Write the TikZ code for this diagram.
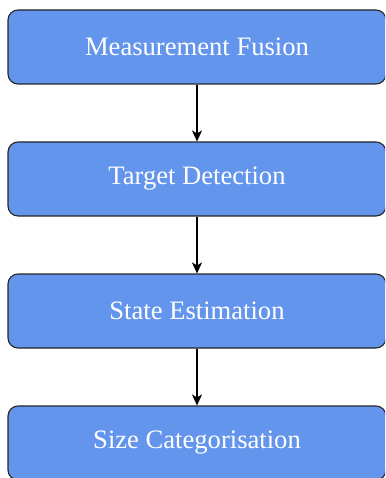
\documentclass[tikz,border=0pt]{standalone}
\usepackage{fontspec}
\setmainfont{Liberation Serif}
\usetikzlibrary{arrows.meta}
\definecolor{boxblue}{RGB}{100,149,237}
\begin{document}
\begin{tikzpicture}[x=1pt,y=-1pt,
  stage/.style={draw=black!85, line width=1.1pt, fill=boxblue, rounded corners=10pt,
    minimum width=378pt, minimum height=74pt, inner sep=0pt, text=white,
    font=\fontsize{26.6}{32}\selectfont},
  flow/.style={line width=1.6pt, -{Stealth[length=11pt,width=10pt,inset=3pt]}}]
\useasboundingbox (0,0) rectangle (385,478);
\begin{scope}
\clip (0,0) rectangle (385,478);
\node[stage] (a) at (197,47) {Measurement Fusion};
\node[stage] (b) at (197,179) {Target Detection};
\node[stage] (c) at (197,311) {State Estimation};
\node[stage] (d) at (197,443) {Size Categorisation};
\draw[flow] (a) -- (b);
\draw[flow] (b) -- (c);
\draw[flow] (c) -- (d);
\end{scope}
\end{tikzpicture}
\end{document}
